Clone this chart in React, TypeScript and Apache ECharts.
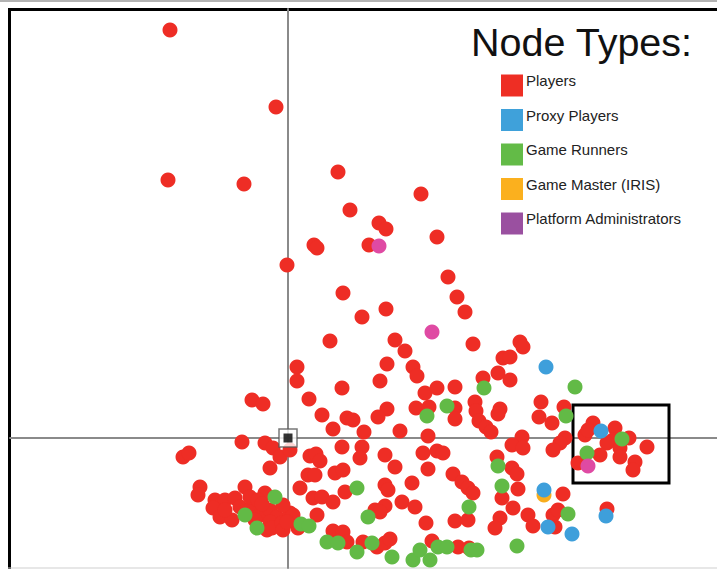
import React, { useEffect, useRef } from "react";
import * as echarts from "echarts";

// Values are positions relative to the crossing of the two reference axes.
const players: number[][] = [
  [-118, 408], [-12, 331], [-120, 258], [-44, 254], [50, 266], [133, 244], [62, 228], [91, 215],
  [98, 209], [149, 201], [26, 193], [29, 190], [81, 193], [-1, 173], [160, 161], [55, 145],
  [169, 141], [98, 129], [177, 126], [74, 121], [42, 97], [107, 98], [117, 87], [185, 94],
  [232, 96], [235, 91], [215, 80], [222, 81], [9, 71], [99, 74], [125, 71], [129, 62],
  [210, 65], [222, 58], [9, 57], [54, 50], [92, 57], [137, 45], [149, 50], [167, 51],
  [195, 60], [21, 39], [-36, 38], [-25, 34], [99, 29], [90, 21], [128, 30], [141, 31],
  [167, 30], [167, 19], [34, 23], [59, 20], [65, 18], [45, 9], [76, 6], [112, 7],
  [140, 2], [187, 36], [188, 27], [191, 17], [198, 11], [203, 6], [212, 29], [210, 24],
  [253, 36], [251, 21], [264, 15], [276, 31], [277, 0], [272, -5], [265, -12], [234, 1],
  [224, -7], [235, -10], [297, 3], [305, 15], [300, 8], [327, 10], [325, -2], [319, -5],
  [341, 0], [359, -9], [332, -10], [312, -17], [332, -19], [290, -25], [347, -24], [345, -32],
  [-46, -4], [-23, -5], [-15, -10], [-8, -19], [2, -12], [-105, -19], [-99, -15], [-18, -30],
  [22, -18], [28, -16], [32, -23], [54, -9], [74, -9], [72, -20], [20, -37], [27, -37],
  [47, -35], [55, -32], [97, -17], [107, -29], [135, -15], [149, -13], [155, -15], [140, -31],
  [-88, -49], [-90, -57], [-43, -49], [12, -50], [25, -60], [34, -59], [45, -64], [57, -54],
  [97, -47], [100, -52], [124, -45], [114, -64], [127, -69], [97, -68], [87, -72], [92, -74],
  [29, -77], [10, -90], [138, -85], [45, -93], [55, -94], [59, -104], [75, -104], [89, -109],
  [97, -105], [102, -101], [144, -103], [170, -109], [181, -110], [209, -19], [224, -30], [229, -36],
  [165, -36], [174, -44], [180, -50], [185, -55], [230, -51], [275, -56], [214, -60], [225, -70],
  [167, -83], [180, -82], [212, -80], [207, -90], [240, -77], [245, -88], [265, -77], [270, -72],
  [267, -89], [319, -71], [-73, -62], [-63, -62], [-75, -70], [-68, -79], [-53, -60], [-48, -69],
  [-56, -82], [-36, -69], [-23, -55], [-28, -77], [-18, -72], [-11, -79], [-18, -84], [-21, -92],
  [-16, -90], [-6, -85], [2, -75], [5, -77], [-5, -92], [-63, -72], [-38, -59], [-30, -62],
  [-26, -66], [-5, -67], [-33, -82], [-1, -84],
];

const gameRunners: number[][] = [
  [287, 51], [196, 50], [159, 32], [139, 22], [278, 22], [210, -28], [69, -50], [-13, -59],
  [-31, -90], [-43, -77], [13, -86], [21, -88], [80, -79], [39, -104], [50, -105], [69, -114],
  [84, -105], [104, -119], [125, -122], [132, -112], [142, -122], [150, -109], [159, -109], [183, -112],
  [189, -112], [181, -69], [214, -48], [229, -108], [280, -76], [299, -15], [334, -1],
];

const proxyPlayers: number[][] = [
  [258, 71], [313, 7], [256, -52], [260, -89], [284, -96], [318, -78],
];

const gameMaster: number[][] = [[256, -57]];

const admins: number[][] = [[91, 192], [144, 106], [300, -28]];

const origin: number[][] = [[0, 0]];

// highlighted region [x0, y0] - [x1, y1]
const boxCorners: number[][] = [[285, 33], [381, -45]];

const legendNames = [
  "Players",
  "Proxy Players",
  "Game Runners",
  "Game Master (IRIS)",
  "Platform Administrators",
];
const legendColors = ["#ee2e24", "#3fa1da", "#63bb47", "#fbb01e", "#9a50a0"];

export default function App() {
  const ref = useRef<HTMLDivElement>(null);

  useEffect(() => {
    if (!ref.current) return;
    const chart = echarts.init(ref.current, null, { renderer: "svg" });
    const dot = (name: string, data: number[][], color: string) => ({
      name,
      type: "scatter",
      data,
      symbol: "circle",
      symbolSize: 15,
      itemStyle: { color, opacity: 1 },
      emphasis: { disabled: true },
    });
    chart.setOption({
      animation: false,
      backgroundColor: "#ffffff",
      grid: { left: 10, right: 0, top: 9, bottom: 1 },
      xAxis: {
        type: "value",
        min: -278,
        max: 429,
        axisLine: { onZero: true, lineStyle: { color: "#8a8a8a", width: 2 } },
        axisTick: { show: false },
        axisLabel: { show: false },
        splitLine: { show: false },
      },
      yAxis: {
        type: "value",
        min: -130,
        max: 429,
        axisLine: { onZero: true, lineStyle: { color: "#8a8a8a", width: 2 } },
        axisTick: { show: false },
        axisLabel: { show: false },
        splitLine: { show: false },
      },
      title: {
        text: "Node Types:",
        left: 471,
        top: 22,
        padding: 0,
        textStyle: {
          fontFamily: "Liberation Sans",
          fontSize: 39.5,
          fontWeight: "normal",
          color: "#111111",
        },
      },
      legend: {
        orient: "vertical",
        left: 501,
        top: 73,
        padding: 0,
        itemWidth: 22,
        itemHeight: 22,
        itemGap: 11,
        icon: "rect",
        selectedMode: false,
        formatter: "{t|{name}}",
        textStyle: {
          fontFamily: "Liberation Sans",
          fontSize: 15,
          color: "#222222",
          rich: {
            t: {
              fontFamily: "Liberation Sans",
              fontSize: 15,
              color: "#222222",
              padding: [0, 0, 10, -2],
            },
          },
        },
        data: legendNames.map((n, i) => ({ name: n, itemStyle: { color: legendColors[i] } })),
      },
      series: [
        {
          ...dot("Players", players, "#ee2d25"),
          markArea: {
            silent: true,
            itemStyle: { color: "rgba(0,0,0,0)", borderColor: "#000000", borderWidth: 3 },
            data: [[{ coord: boxCorners[0] }, { coord: boxCorners[1] }]],
          },
        },
        dot("Game Runners", gameRunners, "#62ba46"),
        dot("Game Master (IRIS)", gameMaster, "#f8ad1d"),
        dot("Proxy Players", proxyPlayers, "#3e9fdb"),
        dot("Platform Administrators", admins, "#df4aa3"),
        {
          name: "originFrame",
          type: "scatter",
          data: origin,
          symbol: "rect",
          symbolSize: 18,
          itemStyle: { color: "#ffffff", borderColor: "#555555", borderWidth: 1.5 },
          emphasis: { disabled: true },
          z: 5,
        },
        {
          name: "originMark",
          type: "scatter",
          data: origin,
          symbol: "rect",
          symbolSize: 9,
          itemStyle: { color: "#000000" },
          emphasis: { disabled: true },
          z: 6,
        },
      ],
      graphic: [
        { type: "line", shape: { x1: 0, y1: 1, x2: 717, y2: 1 }, style: { stroke: "#9a9a9a", lineWidth: 1.5 } },
        { type: "line", shape: { x1: 8, y1: 9.5, x2: 717, y2: 9.5 }, style: { stroke: "#000000", lineWidth: 3 } },
        { type: "line", shape: { x1: 9.5, y1: 8, x2: 9.5, y2: 569 }, style: { stroke: "#000000", lineWidth: 3 } },
        { type: "line", shape: { x1: 8, y1: 568, x2: 717, y2: 568 }, style: { stroke: "#cfcfcf", lineWidth: 1 } },
      ],
    });
    return () => chart.dispose();
  }, []);

  return (
    <div
      ref={ref}
      style={{ position: "fixed", left: 0, top: 0, width: 717, height: 569, background: "#fff" }}
    />
  );
}
